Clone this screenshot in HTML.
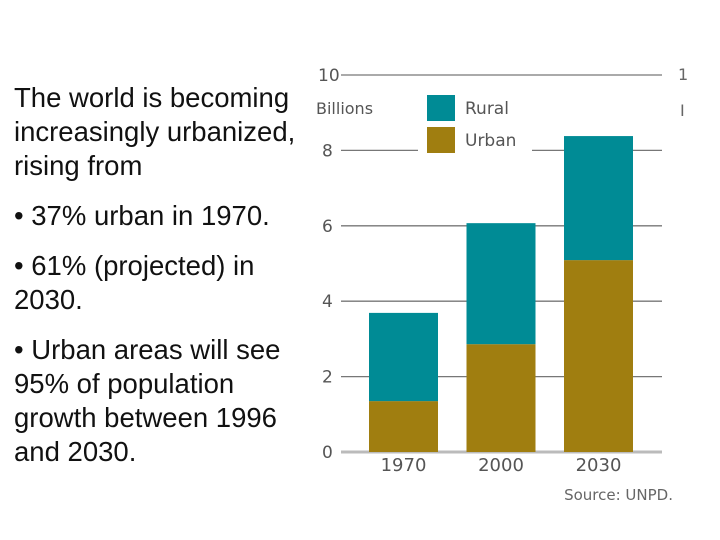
<!DOCTYPE html>
<html><head><meta charset="utf-8"><style>
body{margin:0;width:720px;height:540px;background:#fff;overflow:hidden;position:relative;font-family:"Liberation Sans",sans-serif;}
#text{position:absolute;left:14px;top:81px;width:292px;font-size:27.5px;line-height:34px;color:#111;}
#text p{margin:0 0 16px 0;}
</style></head><body>
<div id="text">
<p>The world is becoming increasingly urbanized, rising from</p>
<p>• 37% urban in 1970.</p>
<p>• 61% (projected) in 2030.</p>
<p>• Urban areas will see 95% of population growth between 1996 and 2030.</p>
</div>
<svg id="chart" width="720" height="540" style="position:absolute;left:0;top:0"></svg>
<script>
const categories=["1970","2000","2030"];
const urban=[1.35,2.86,5.09];
const rural=[2.34,3.21,3.29];
const ticks=[0,2,4,6,8,10];
const NS="http://www.w3.org/2000/svg";
const svg=document.getElementById('chart');
function y(v){return 452-v*37.7;}
function x(i){return 369+i*97.5;}
const bw=69;
function mk(t,a,p){const e=document.createElementNS(NS,t);for(const k in a)e.setAttribute(k,a[k]);(p||svg).appendChild(e);return e;}
ticks.forEach(t=>{
  const g=mk('line',{x1:341,x2:662,y1:y(t),y2:y(t),stroke:t===0?'#bbb':'#777','stroke-width':t===0?3:1.3});
  
  
  const l=mk('text',{x:t===10?318:322,y:y(t)+6,'font-size':17,fill:'#555','font-family':'DejaVu Sans, sans-serif'});
  l.textContent=t;
  
  
});
const lb=mk('rect',{x:418,y:85,width:114,height:70,fill:'#fff'});


const yl=mk('text',{x:316,y:114,'font-size':16,fill:'#555','font-family':'DejaVu Sans, sans-serif'});yl.textContent='Billions';


[['Rural','#008b95',95],['Urban','#a07e10',127]].forEach(([n,c,yy])=>{
  const r=mk('rect',{x:427,y:yy,width:28,height:26,fill:c});
  
  
  const t=mk('text',{x:465,y:yy+19,'font-size':17,fill:'#555','font-family':'DejaVu Sans, sans-serif'});t.textContent=n;
  
  
});
categories.forEach((c,i)=>{
  const u=mk('rect',{x:x(i),y:y(urban[i]),width:bw,height:y(0)-y(urban[i]),fill:'#a07e10'});
  
  
  const tot=urban[i]+rural[i];
  const r=mk('rect',{x:x(i),y:y(tot),width:bw,height:y(urban[i])-y(tot),fill:'#008b95'});
  
  
  const t=mk('text',{x:x(i)+bw/2,y:471,'font-size':18,fill:'#555','text-anchor':'middle','font-family':'DejaVu Sans, sans-serif'});t.textContent=c;
  
  
});
const s=mk('text',{x:673,y:500,'font-size':15,fill:'#666','text-anchor':'end','font-family':'DejaVu Sans, sans-serif'});s.textContent='Source: UNPD.';


const e1=mk('text',{x:678,y:80,'font-size':16,fill:'#666','font-family':'DejaVu Sans, sans-serif'});e1.textContent='1';


const e2=mk('text',{x:680,y:116,'font-size':16,fill:'#666','font-family':'DejaVu Sans, sans-serif'});e2.textContent='I';


</script>
</body></html>
